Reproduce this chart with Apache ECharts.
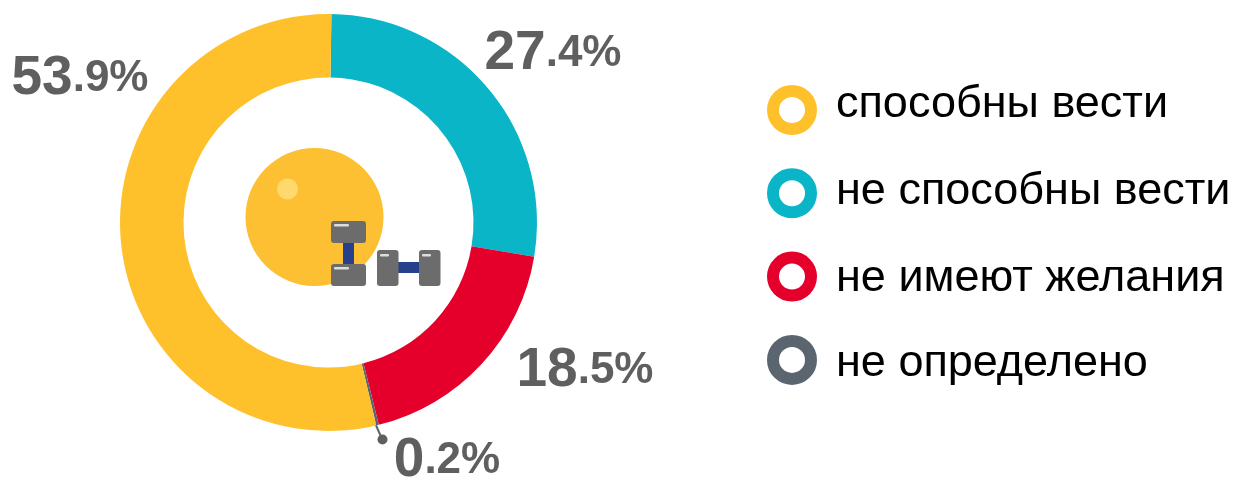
<!DOCTYPE html>
<html lang="ru">
<head>
    <meta charset="UTF-8">
    <title>Доля</title>
    <script src="https://cdn.jsdelivr.net/npm/echarts@6/dist/echarts.min.js"></script>
    <style>
        html, body { margin: 0; padding: 0; background: #fff; overflow: hidden; }
        #main { width: 1233px; height: 477px; }
    </style>
</head>
<body>
    <div id="main"></div>
<script>
    // значения с картинки, порядок по часовой от верха
    var categories = ['не способны вести', 'не имеют желания', 'не определено', 'способны вести'];
    var values = [27.4, 18.5, 0.2, 53.9];
    var colors = ['#0AB5C8', '#E4002B', '#5A6570', '#FFC12B'];
    var legendOrder = ['способны вести', 'не способны вести', 'не имеют желания', 'не определено'];

    var labelPos = [[553, 54], [585, 371], [447, 461], [80, 79]];
    // подписи легенды идут чуть реже кружков, поэтому ставим их отдельно
    var legendTextY = [104.5, 191.5, 278.5, 364];

    function rect(x, y, w, h, r, fill) {
        return { type: 'rect', silent: true, shape: { x: x, y: y, width: w, height: h, r: r }, style: { fill: fill } };
    }

    var grey = '#6C6C6C', blue = '#27408B', shine = '#DDDDDD';

    var legendTexts = legendOrder.map(function (name, i) {
        return {
            type: 'text',
            silent: true,
            x: 836,
            y: legendTextY[i],
            style: { text: name, font: '45px "Liberation Sans"', fill: '#000', textAlign: 'left', textVerticalAlign: 'middle' }
        };
    });

    var chart = echarts.init(document.getElementById('main'));
    chart.setOption({
        animation: false,
        color: colors,
        legend: {
            orient: 'vertical',
            left: 762,
            top: 80,
            // кольца: белая заливка и толстая обводка цвета сектора
            data: legendOrder.map(function (name) {
                return {
                    name: name,
                    itemStyle: { color: '#fff', borderWidth: 12, borderColor: colors[categories.indexOf(name)] }
                };
            }),
            formatter: function () { return ''; },
            icon: 'circle',
            itemWidth: 38,
            itemHeight: 38,
            itemGap: 33.3
        },
        series: [{
            type: 'pie',
            center: [328.5, 222.5],
            radius: [145, 208.5],
            startAngle: 89.2,
            clockwise: true,
            legendHoverLink: false,
            data: categories.map(function (name, i) {
                return { name: name, value: values[i] };
            }),
            label: {
                show: true,
                position: 'outside',
                overflow: 'none',
                formatter: function (p) {
                    var parts = p.value.toFixed(1).split('.');
                    return '{a|' + parts[0] + '}{b|.' + parts[1] + '%}';
                },
                rich: {
                    a: { fontFamily: 'Liberation Sans', fontWeight: 'bold', fontSize: 55, color: '#5F5F5F' },
                    b: { fontFamily: 'Liberation Sans', fontWeight: 'bold', fontSize: 44, color: '#5F5F5F' }
                }
            },
            labelLine: { show: false },
            labelLayout: function (p) {
                return { x: labelPos[p.dataIndex][0], y: labelPos[p.dataIndex][1], align: 'center', verticalAlign: 'middle' };
            }
        }],
        graphic: legendTexts.concat([
            // выноска для 0.2%
            { type: 'line', silent: true, shape: { x1: 375, y1: 423, x2: 382, y2: 439 }, style: { stroke: '#5A6570', lineWidth: 2 } },
            { type: 'circle', silent: true, shape: { cx: 382.5, cy: 439.5, r: 5 }, style: { fill: '#5F5F5F' } },
            // мяч и гантели в центре
            { type: 'circle', silent: true, shape: { cx: 314.5, cy: 217, r: 69 }, style: { fill: '#FDC032' } },
            { type: 'circle', silent: true, shape: { cx: 287.5, cy: 189, r: 10.5 }, style: { fill: '#FFD96F' } },
            rect(343, 240, 11, 26, 0, blue),
            rect(331, 221, 35, 22, 3, grey),
            rect(331, 264, 35, 22, 3, grey),
            rect(334, 224, 15, 2.5, 1, shine),
            rect(334, 267, 15, 2.5, 1, shine),
            rect(396, 262, 25, 11, 0, blue),
            rect(377, 250, 21.5, 36, 3, grey),
            rect(419, 250, 21.5, 36, 3, grey),
            rect(380, 254, 9, 2.5, 1, shine),
            rect(422, 254, 9, 2.5, 1, shine)
        ])
    });
</script>
</body>
</html>
